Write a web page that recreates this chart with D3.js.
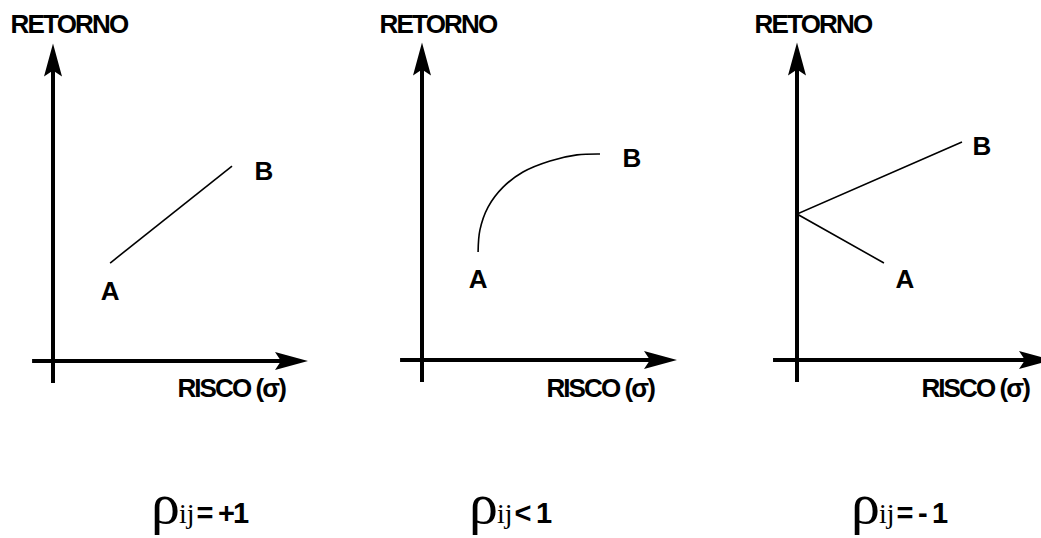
<!DOCTYPE html>
<html>
<head>
<meta charset="utf-8">
<script src="https://cdn.jsdelivr.net/npm/d3@7"></script>
<style>
  html, body { margin: 0; padding: 0; background: #fff; }
  svg { display: block; }
</style>
</head>
<body>
<svg id="chart" width="1041" height="538"></svg>
<script>
// ---------- data (risk σ on x, return on y, in abstract units 0..10) ----------
const panelTitles = ["RETORNO", "RETORNO", "RETORNO"];
const axisXLabel = "RISCO (σ)";
const pointNames = ["A", "B"];
const corrSymbols = ["ρ", "ρ", "ρ"];
const corrSubscripts = ["ij", "ij", "ij"];
const corrRelations = ["= +1", "< 1", "= - 1"];

// panel 1: perfect positive correlation -> straight line A-B
const line1Risk   = [2.24, 7.02];
const line1Return = [3.10, 6.17];
// panel 2: correlation < 1 -> curved frontier A-B
const line2Risk   = [2.20, 2.27, 2.59, 3.18, 3.96, 5.02, 6.08, 6.98];
const line2Return = [3.42, 4.11, 4.84, 5.47, 5.95, 6.30, 6.49, 6.52];
// panel 3: perfect negative correlation -> A to zero-risk point to B
const line3Risk   = [3.41, 0.00, 6.47];
const line3Return = [3.07, 4.62, 6.90];

const seriesRisk = [line1Risk, line2Risk, line3Risk];
const seriesReturn = [line1Return, line2Return, line3Return];

// ---------- layout ----------
const layout = [
  { ox: 53,  oy: 361, xMin: -0.82, corrX: 151, curve: d3.curveLinear },
  { ox: 422, oy: 360, xMin: -0.86, corrX: 469, curve: d3.curveCatmullRom },
  { ox: 797, oy: 360, xMin: -0.94, corrX: 851, curve: d3.curveLinear }
];
const xLen = 255, yLen = 316;
const labelOffsets = [
  { A: [0, 37], B: [32, 14] },
  { A: [0, 36], B: [32, 13] },
  { A: [21, 25], B: [20, 13] }
];

const svg = d3.select("#chart");
const sans = "'Liberation Sans', Arial, sans-serif";
const serif = "'Liberation Serif', 'Times New Roman', serif";

function arrowHead(g, tip, dir) {
  const L = 33, W = 9, notch = 6;
  let pts;
  if (dir === "up") {
    pts = [[tip[0], tip[1]], [tip[0] + W, tip[1] + L], [tip[0], tip[1] + L - notch], [tip[0] - W, tip[1] + L]];
  } else {
    pts = [[tip[0], tip[1]], [tip[0] - L, tip[1] - W], [tip[0] - L + notch, tip[1]], [tip[0] - L, tip[1] + W]];
  }
  g.append("path").attr("d", "M" + pts.map(p => p.join(",")).join("L") + "Z").attr("fill", "#000");
}

layout.forEach((p, i) => {
  const g = svg.append("g");
  const x = d3.scaleLinear().domain([0, 10]).range([p.ox, p.ox + xLen]);
  const y = d3.scaleLinear().domain([0, 10]).range([p.oy, p.oy - yLen]);

  // axes
  g.append("line").attr("x1", x(0)).attr("x2", x(0)).attr("y1", y(-0.7)).attr("y2", y(9.5))
    .attr("stroke", "#000").attr("stroke-width", 4);
  arrowHead(g, [x(0), y(10.05)], "up");
  g.append("line").attr("x1", x(p.xMin)).attr("x2", x(9.6)).attr("y1", y(0)).attr("y2", y(0))
    .attr("stroke", "#000").attr("stroke-width", 4);
  arrowHead(g, [x(10), y(0)], "right");

  // axis titles
  g.append("text").attr("x", x(0) + 16).attr("y", 33).attr("text-anchor", "middle")
    .attr("font-family", sans).attr("font-weight", "bold").attr("font-size", 26)
    .attr("letter-spacing", -1.8).text(panelTitles[i]);
  g.append("text").attr("x", x(0) + 232).attr("y", 397).attr("text-anchor", "end")
    .attr("font-family", sans).attr("font-weight", "bold").attr("font-size", 26)
    .attr("letter-spacing", -1.9).text(axisXLabel);

  // series line
  const pts = seriesRisk[i].map((r, k) => [r, seriesReturn[i][k]]);
  const lineGen = d3.line().x(d => x(d[0])).y(d => y(d[1])).curve(p.curve);
  g.append("path").datum(pts).attr("d", lineGen).attr("fill", "none")
    .attr("stroke", "#000").attr("stroke-width", 1.6);

  // A / B labels at series endpoints
  const ends = { A: pts[0], B: pts[pts.length - 1] };
  pointNames.forEach(n => {
    const e = ends[n];
    g.append("text").attr("x", x(e[0]) + labelOffsets[i][n][0]).attr("y", y(e[1]) + labelOffsets[i][n][1])
      .attr("text-anchor", "middle").attr("font-family", sans).attr("font-weight", "bold")
      .attr("font-size", 26).text(n);
  });

  // correlation label
  const t = svg.append("text").attr("x", p.corrX).attr("y", 523);
  t.append("tspan").attr("font-family", serif).attr("font-size", 58).text(corrSymbols[i]);
  t.append("tspan").attr("font-family", serif).attr("font-size", 28).attr("dx", -1).text(corrSubscripts[i]);
  t.append("tspan").attr("dx", 2).attr("font-family", sans).attr("font-weight", "bold")
    .attr("font-size", 29).attr("letter-spacing", -1.8).attr("xml:space", "preserve").text(corrRelations[i]);
});
</script>
</body>
</html>
